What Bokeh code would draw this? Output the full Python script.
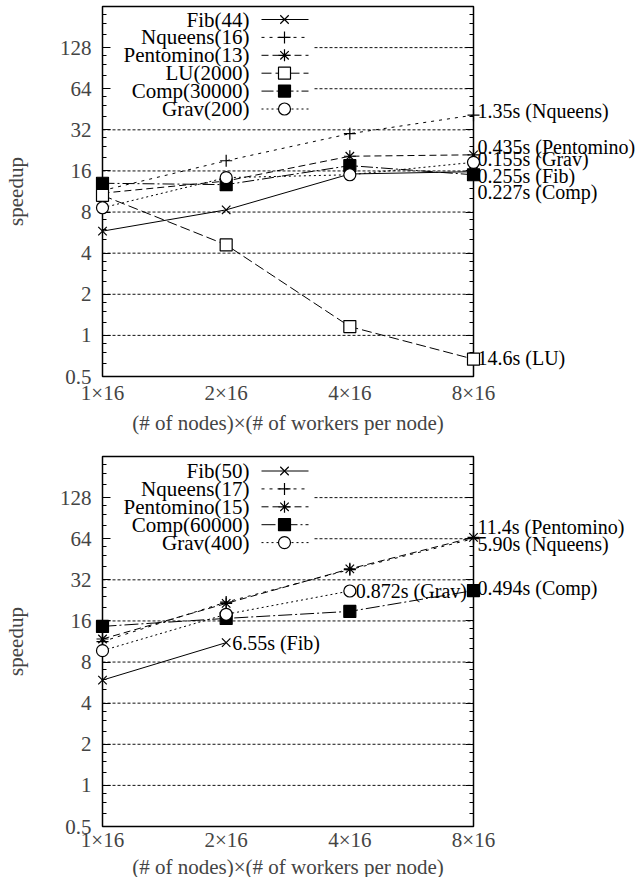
import math
from bokeh.plotting import figure
from bokeh.models import Range1d, FixedTicker, LogAxis, Label
from bokeh.core.properties import value
from bokeh.layouts import column
from bokeh.embed import file_html
from bokeh.resources import INLINE

# ---------------- data ----------------
nodes = [1, 2, 4, 8]
x_tick_labels = ["1×16", "2×16", "4×16", "8×16"]
y_ticks = [0.5, 1, 2, 4, 8, 16, 32, 64, 128]
y_tick_labels = ["0.5", "1", "2", "4", "8", "16", "32", "64", "128"]
y_minor_factors = [1.25, 1.5, 1.75]

top_names = ["Fib(44)", "Nqueens(16)", "Pentomino(13)", "LU(2000)", "Comp(30000)", "Grav(200)"]
top_fib = [5.8, 8.3, 15.2, 15.8]
top_nqueens = [11.5, 19.0, 30.0, 41.0]
top_pentomino = [11.0, 13.5, 20.5, 21.0]
top_lu = [10.6, 4.6, 1.16, 0.67]
top_comp = [13.0, 12.7, 17.5, 15.0]
top_grav = [8.6, 14.3, 15.0, 18.5]
top_times = ["0.255s (Fib)", "1.35s (Nqueens)", "0.435s (Pentomino)",
             "14.6s (LU)", "0.227s (Comp)", "0.155s (Grav)"]

bot_names = ["Fib(50)", "Nqueens(17)", "Pentomino(15)", "Comp(60000)", "Grav(400)"]
bot_fib = [5.9, 11.1]
bot_nqueens = [11.3, 22.0, 38.0, 64.0]
bot_pentomino = [11.8, 21.5, 38.5, 65.5]
bot_comp = [14.6, 16.7, 18.8, 26.7]
bot_grav = [9.7, 17.9, 26.5]
bot_times = ["6.55s (Fib)", "5.90s (Nqueens)", "11.4s (Pentomino)",
             "0.494s (Comp)", "0.872s (Grav)"]

# ---------------- styles ----------------
FONT = "Liberation Serif"
FS = "21px"
FS_END = "20px"
FW, FH = 371, 370
LEFT, RIGHT = 101, 169

STY = {
    "Fib": dict(dash="solid", marker="x", fill="white"),
    "Nqueens": dict(dash="3 5", marker="cross", fill="white"),
    "Pentomino": dict(dash="7 4", marker="asterisk", fill="white"),
    "LU": dict(dash="10 4", marker="square", fill="white"),
    "Comp": dict(dash="12 3 2 3", marker="square", fill="black"),
    "Grav": dict(dash="2 3", marker="circle", fill="white"),
}

PPX = FW / 3.0
PPY = FH / 9.0


def xpx(px):
    return 2 ** (px / PPX)


def ypx(py):
    return 256 * 2 ** (-py / PPY)


def make_plot(series, border_top, border_bottom, tick_standoff, title_standoff, key_top):
    p = figure(frame_width=FW, frame_height=FH, x_axis_type="log", y_axis_type="log",
               x_range=Range1d(1, 8), y_range=Range1d(0.5, 256),
               output_backend="svg", toolbar_location=None,
               min_border_left=LEFT, min_border_right=RIGHT,
               min_border_top=border_top, min_border_bottom=border_bottom)
    p.outline_line_color = "black"
    p.outline_line_width = 1.5
    p.xgrid.visible = False
    p.ygrid.visible = False
    p.background_fill_color = "white"
    p.border_fill_color = "white"

    minor = [t * f for t in y_ticks + [256] for f in y_minor_factors if t * f < 256]
    minor = [m for m in minor if m > 0.5]

    xa = p.xaxis[0]
    xa.ticker = FixedTicker(ticks=nodes, minor_ticks=[])
    xa.major_label_overrides = {float(k): v for k, v in zip(nodes, x_tick_labels)}
    xa.major_tick_in = 0
    xa.major_tick_out = 0
    xa.minor_tick_in = 0
    xa.minor_tick_out = 0
    xa.axis_line_color = None
    xa.major_label_text_font = FONT
    xa.major_label_text_font_size = FS
    xa.major_label_standoff = tick_standoff
    xa.axis_label = "(# of nodes)×(# of workers per node)"
    xa.axis_label_text_font = FONT
    xa.axis_label_text_font_size = FS
    xa.axis_label_text_font_style = "normal"
    xa.axis_label_standoff = title_standoff

    ya = p.yaxis[0]
    ya.ticker = FixedTicker(ticks=y_ticks, minor_ticks=minor)
    ya.major_label_overrides = {float(k): v for k, v in zip(y_ticks, y_tick_labels)}
    ya.major_tick_in = 8
    ya.major_tick_out = 0
    ya.minor_tick_in = 4
    ya.minor_tick_out = 0
    ya.major_tick_line_width = 1.2
    ya.axis_line_color = None
    ya.major_label_text_font = FONT
    ya.major_label_text_font_size = FS
    ya.major_label_standoff = 11
    ya.axis_label = "speedup"
    ya.axis_label_text_font = FONT
    ya.axis_label_text_font_size = FS
    ya.axis_label_text_font_style = "normal"
    ya.axis_label_standoff = 29

    ra = LogAxis(ticker=FixedTicker(ticks=y_ticks, minor_ticks=minor),
                 major_label_text_font_size="0px", axis_line_color=None,
                 major_tick_in=8, major_tick_out=0, minor_tick_in=4, minor_tick_out=0,
                 major_tick_line_width=1.2, major_label_standoff=0)
    p.add_layout(ra, "right")

    # grid lines (hidden behind key area for the two top ticks)
    gt = [t for t in y_ticks if t > 0.5]
    gx0 = [1 if t <= 32 else xpx(212) for t in gt]
    p.segment(x0=gx0, x1=[8] * len(gt), y0=gt, y1=gt, line_color="#111111",
              line_width=1, line_dash="3 2", level="underlay")

    for k, (key, name, xs, ys, dash, text, xoff, yoff) in enumerate(series):
        st = STY[key]
        p.line(xs, ys, line_color="black", line_width=1, line_dash=dash)
        # key entry
        ry = ypx(key_top + 17.9 * k)
        p.line([xpx(159), xpx(206)], [ry, ry], line_color="black", line_width=1,
               line_dash=dash)
        p.scatter([xpx(182)], [ry], marker=st["marker"], size=12, line_color="black",
                  fill_color=st["fill"], line_width=1.2)
        p.add_layout(Label(x=xpx(147), y=ry, text=name, text_align="right",
                           text_baseline="middle", text_font=FONT, text_font_size=FS,
                           text_color="black"))
    # end-of-line timing labels (drawn above frame clipping)
    for (key, name, xs, ys, dash, text, xoff, yoff) in series:
        p.text(x=[xs[-1]], y=[ys[-1]], text=[text], x_offset=xoff, y_offset=-yoff,
               text_align="left", text_baseline="middle",
               text_font=value(FONT), text_font_size=value(FS_END), text_color="black",
               level="overlay")
    for (key, name, xs, ys, dash, text, xoff, yoff) in series:
        st = STY[key]
        p.scatter(xs, ys, marker=st["marker"], size=12, line_color="black",
                  fill_color=st["fill"], line_width=1.2, level="overlay")
    return p


top_series = [
    ("Fib", top_names[0], nodes, top_fib, STY["Fib"]["dash"], top_times[0], 4, -4),
    ("Nqueens", top_names[1], nodes, top_nqueens, STY["Nqueens"]["dash"], top_times[1], 4, 4),
    ("Pentomino", top_names[2], nodes, top_pentomino, STY["Pentomino"]["dash"], top_times[2], 4, 8),
    ("LU", top_names[3], nodes, top_lu, STY["LU"]["dash"], top_times[3], 4, 1),
    ("Comp", top_names[4], nodes, top_comp, STY["Comp"]["dash"], top_times[4], 4, -17),
    ("Grav", top_names[5], nodes, top_grav, STY["Grav"]["dash"], top_times[5], 4, 3),
]
bot_series = [
    ("Fib", bot_names[0], nodes[:len(bot_fib)], bot_fib, "solid", bot_times[0], 6, 0),
    ("Nqueens", bot_names[1], nodes, bot_nqueens, "3 5", bot_times[1], 4, -5),
    ("Pentomino", bot_names[2], nodes, bot_pentomino, "7 4", bot_times[2], 4, 10),
    ("Comp", bot_names[3], nodes, bot_comp, "14 3 2 3", bot_times[3], 4, 3),
    ("Grav", bot_names[4], nodes[:len(bot_grav)], bot_grav, "2 3", bot_times[4], 6, 0),
]

p1 = make_plot(top_series, 6, 71, 4, 3, 13)
p2 = make_plot(bot_series, 9, 48, 1, 0, 14.5)

layout = column(p1, p2, spacing=0)
open("out.html", "w").write(file_html(layout, INLINE))
